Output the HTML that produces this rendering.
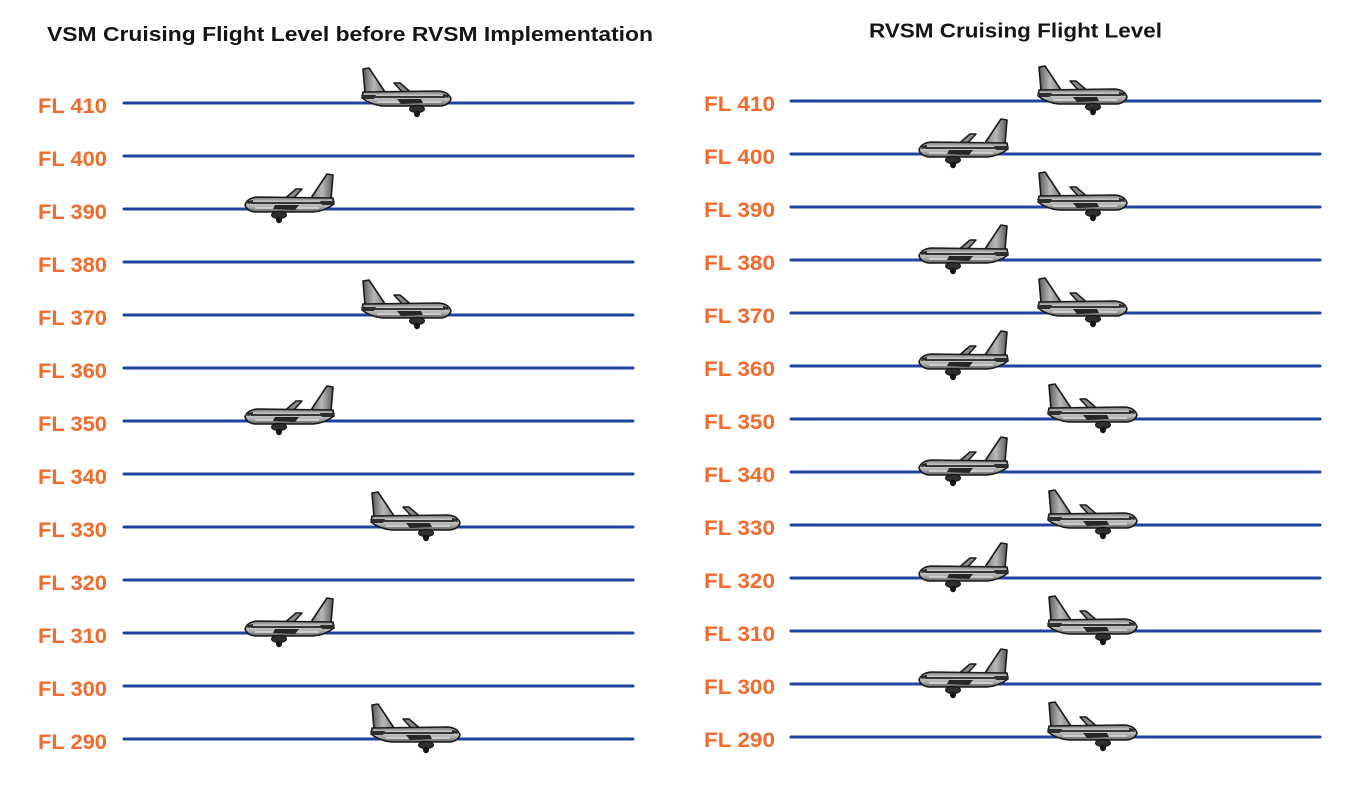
<!DOCTYPE html>
<html>
<head>
<meta charset="utf-8">
<style>
  html, body { margin:0; padding:0; background:#ffffff; }
  body { width:1366px; height:790px; overflow:hidden; }
  svg { display:block; }
  .t { font-family:"Liberation Sans", sans-serif; font-weight:bold; fill:#151515; font-size:20px; }
  .fl { font-family:"Liberation Sans", sans-serif; font-weight:bold; fill:#f26b2d; font-size:21px; }
</style>
</head>
<body>
<svg width="1366" height="790" viewBox="0 0 1366 790" xmlns="http://www.w3.org/2000/svg">
  <defs>
    <linearGradient id="body" x1="0" y1="0" x2="0" y2="1">
      <stop offset="0" stop-color="#6e6e6e"/>
      <stop offset="0.35" stop-color="#d2d2d2"/>
      <stop offset="0.7" stop-color="#a8a8a8"/>
      <stop offset="1" stop-color="#5a5a5a"/>
    </linearGradient>
    <linearGradient id="fin" x1="0" y1="0" x2="1" y2="0">
      <stop offset="0" stop-color="#5a5a5a"/>
      <stop offset="0.5" stop-color="#b8b8b8"/>
      <stop offset="1" stop-color="#7a7a7a"/>
    </linearGradient>
    <g id="plane">
      <path d="M2,-34 L8,-35 L24,-11 L4,-10 Z" fill="url(#fin)" stroke="#1a1a1a" stroke-width="1.6" stroke-linejoin="round"/>
      <path d="M33,-20 L39,-20 L53,-8 L44,-8 Z" fill="#8a8a8a" stroke="#1a1a1a" stroke-width="1.5" stroke-linejoin="round"/>
      <path d="M2,-11 L78,-12 Q88,-11 90,-4 Q88,2 80,3 L22,3 Q10,2 1,-5 Z" fill="url(#body)" stroke="#1a1a1a" stroke-width="1.6" stroke-linejoin="round"/>
      <line x1="12" y1="-6" x2="84" y2="-6" stroke="#222" stroke-width="1.8"/>
      <line x1="16" y1="-1" x2="80" y2="-1" stroke="#e8e8e8" stroke-width="1.2"/>
      <path d="M0,-8 L15,-8 L13,-4 L2,-4 Z" fill="#2e2e2e"/>
      <path d="M36,-4 L60,-4 L62,0 L40,1 Z" fill="#262626"/>
      <ellipse cx="56" cy="6" rx="7.5" ry="3.6" fill="#2e2e2e" stroke="#111" stroke-width="1"/>
      <ellipse cx="56" cy="11" rx="3" ry="3.2" fill="#141414"/>
      <path d="M82,-9 L87,-8 L88,-5 L82,-6 Z" fill="#2a2a2a"/>
    </g>
  </defs>

  <!-- Titles -->
  <text class="t" x="47" y="41" textLength="606" lengthAdjust="spacingAndGlyphs">VSM Cruising Flight Level before RVSM Implementation</text>
  <text class="t" x="869" y="37.5" textLength="293" lengthAdjust="spacingAndGlyphs">RVSM Cruising Flight Level</text>

  <!-- Left panel lines -->
  <g stroke="#1e44a2" stroke-width="3" stroke-linecap="round">
    <line x1="124" y1="103" x2="633" y2="103"/>
    <line x1="124" y1="156" x2="633" y2="156"/>
    <line x1="124" y1="209" x2="633" y2="209"/>
    <line x1="124" y1="262" x2="633" y2="262"/>
    <line x1="124" y1="315" x2="633" y2="315"/>
    <line x1="124" y1="368" x2="633" y2="368"/>
    <line x1="124" y1="421" x2="633" y2="421"/>
    <line x1="124" y1="474" x2="633" y2="474"/>
    <line x1="124" y1="527" x2="633" y2="527"/>
    <line x1="124" y1="580" x2="633" y2="580"/>
    <line x1="124" y1="633" x2="633" y2="633"/>
    <line x1="124" y1="686" x2="633" y2="686"/>
    <line x1="124" y1="739" x2="633" y2="739"/>
  </g>
  <!-- Right panel lines -->
  <g stroke="#1e44a2" stroke-width="3" stroke-linecap="round">
    <line x1="791" y1="101" x2="1320" y2="101"/>
    <line x1="791" y1="154" x2="1320" y2="154"/>
    <line x1="791" y1="207" x2="1320" y2="207"/>
    <line x1="791" y1="260" x2="1320" y2="260"/>
    <line x1="791" y1="313" x2="1320" y2="313"/>
    <line x1="791" y1="366" x2="1320" y2="366"/>
    <line x1="791" y1="419" x2="1320" y2="419"/>
    <line x1="791" y1="472" x2="1320" y2="472"/>
    <line x1="791" y1="525" x2="1320" y2="525"/>
    <line x1="791" y1="578" x2="1320" y2="578"/>
    <line x1="791" y1="631" x2="1320" y2="631"/>
    <line x1="791" y1="684" x2="1320" y2="684"/>
    <line x1="791" y1="737" x2="1320" y2="737"/>
  </g>

  <!-- Left labels -->
  <g class="fl">
    <text x="38" y="113" textLength="69" lengthAdjust="spacingAndGlyphs">FL 410</text>
    <text x="38" y="166" textLength="69" lengthAdjust="spacingAndGlyphs">FL 400</text>
    <text x="38" y="219" textLength="69" lengthAdjust="spacingAndGlyphs">FL 390</text>
    <text x="38" y="272" textLength="69" lengthAdjust="spacingAndGlyphs">FL 380</text>
    <text x="38" y="325" textLength="69" lengthAdjust="spacingAndGlyphs">FL 370</text>
    <text x="38" y="378" textLength="69" lengthAdjust="spacingAndGlyphs">FL 360</text>
    <text x="38" y="431" textLength="69" lengthAdjust="spacingAndGlyphs">FL 350</text>
    <text x="38" y="484" textLength="69" lengthAdjust="spacingAndGlyphs">FL 340</text>
    <text x="38" y="537" textLength="69" lengthAdjust="spacingAndGlyphs">FL 330</text>
    <text x="38" y="590" textLength="69" lengthAdjust="spacingAndGlyphs">FL 320</text>
    <text x="38" y="643" textLength="69" lengthAdjust="spacingAndGlyphs">FL 310</text>
    <text x="38" y="696" textLength="69" lengthAdjust="spacingAndGlyphs">FL 300</text>
    <text x="38" y="749" textLength="69" lengthAdjust="spacingAndGlyphs">FL 290</text>
  </g>
  <!-- Right labels -->
  <g class="fl">
    <text x="704" y="111" textLength="71" lengthAdjust="spacingAndGlyphs">FL 410</text>
    <text x="704" y="164" textLength="71" lengthAdjust="spacingAndGlyphs">FL 400</text>
    <text x="704" y="217" textLength="71" lengthAdjust="spacingAndGlyphs">FL 390</text>
    <text x="704" y="270" textLength="71" lengthAdjust="spacingAndGlyphs">FL 380</text>
    <text x="704" y="323" textLength="71" lengthAdjust="spacingAndGlyphs">FL 370</text>
    <text x="704" y="376" textLength="71" lengthAdjust="spacingAndGlyphs">FL 360</text>
    <text x="704" y="429" textLength="71" lengthAdjust="spacingAndGlyphs">FL 350</text>
    <text x="704" y="482" textLength="71" lengthAdjust="spacingAndGlyphs">FL 340</text>
    <text x="704" y="535" textLength="71" lengthAdjust="spacingAndGlyphs">FL 330</text>
    <text x="704" y="588" textLength="71" lengthAdjust="spacingAndGlyphs">FL 320</text>
    <text x="704" y="641" textLength="71" lengthAdjust="spacingAndGlyphs">FL 310</text>
    <text x="704" y="694" textLength="71" lengthAdjust="spacingAndGlyphs">FL 300</text>
    <text x="704" y="747" textLength="71" lengthAdjust="spacingAndGlyphs">FL 290</text>
  </g>

  <!-- Left panel planes -->
  <use href="#plane" transform="translate(361,103)"/>
  <use href="#plane" transform="translate(335,209) scale(-1,1)"/>
  <use href="#plane" transform="translate(361,315)"/>
  <use href="#plane" transform="translate(335,421) scale(-1,1)"/>
  <use href="#plane" transform="translate(370,527)"/>
  <use href="#plane" transform="translate(335,633) scale(-1,1)"/>
  <use href="#plane" transform="translate(370,739)"/>

  <!-- Right panel planes -->
  <use href="#plane" transform="translate(1037,101)"/>
  <use href="#plane" transform="translate(1009,154) scale(-1,1)"/>
  <use href="#plane" transform="translate(1037,207)"/>
  <use href="#plane" transform="translate(1009,260) scale(-1,1)"/>
  <use href="#plane" transform="translate(1037,313)"/>
  <use href="#plane" transform="translate(1009,366) scale(-1,1)"/>
  <use href="#plane" transform="translate(1047,419)"/>
  <use href="#plane" transform="translate(1009,472) scale(-1,1)"/>
  <use href="#plane" transform="translate(1047,525)"/>
  <use href="#plane" transform="translate(1009,578) scale(-1,1)"/>
  <use href="#plane" transform="translate(1047,631)"/>
  <use href="#plane" transform="translate(1009,684) scale(-1,1)"/>
  <use href="#plane" transform="translate(1047,737)"/>
</svg>
</body>
</html>
